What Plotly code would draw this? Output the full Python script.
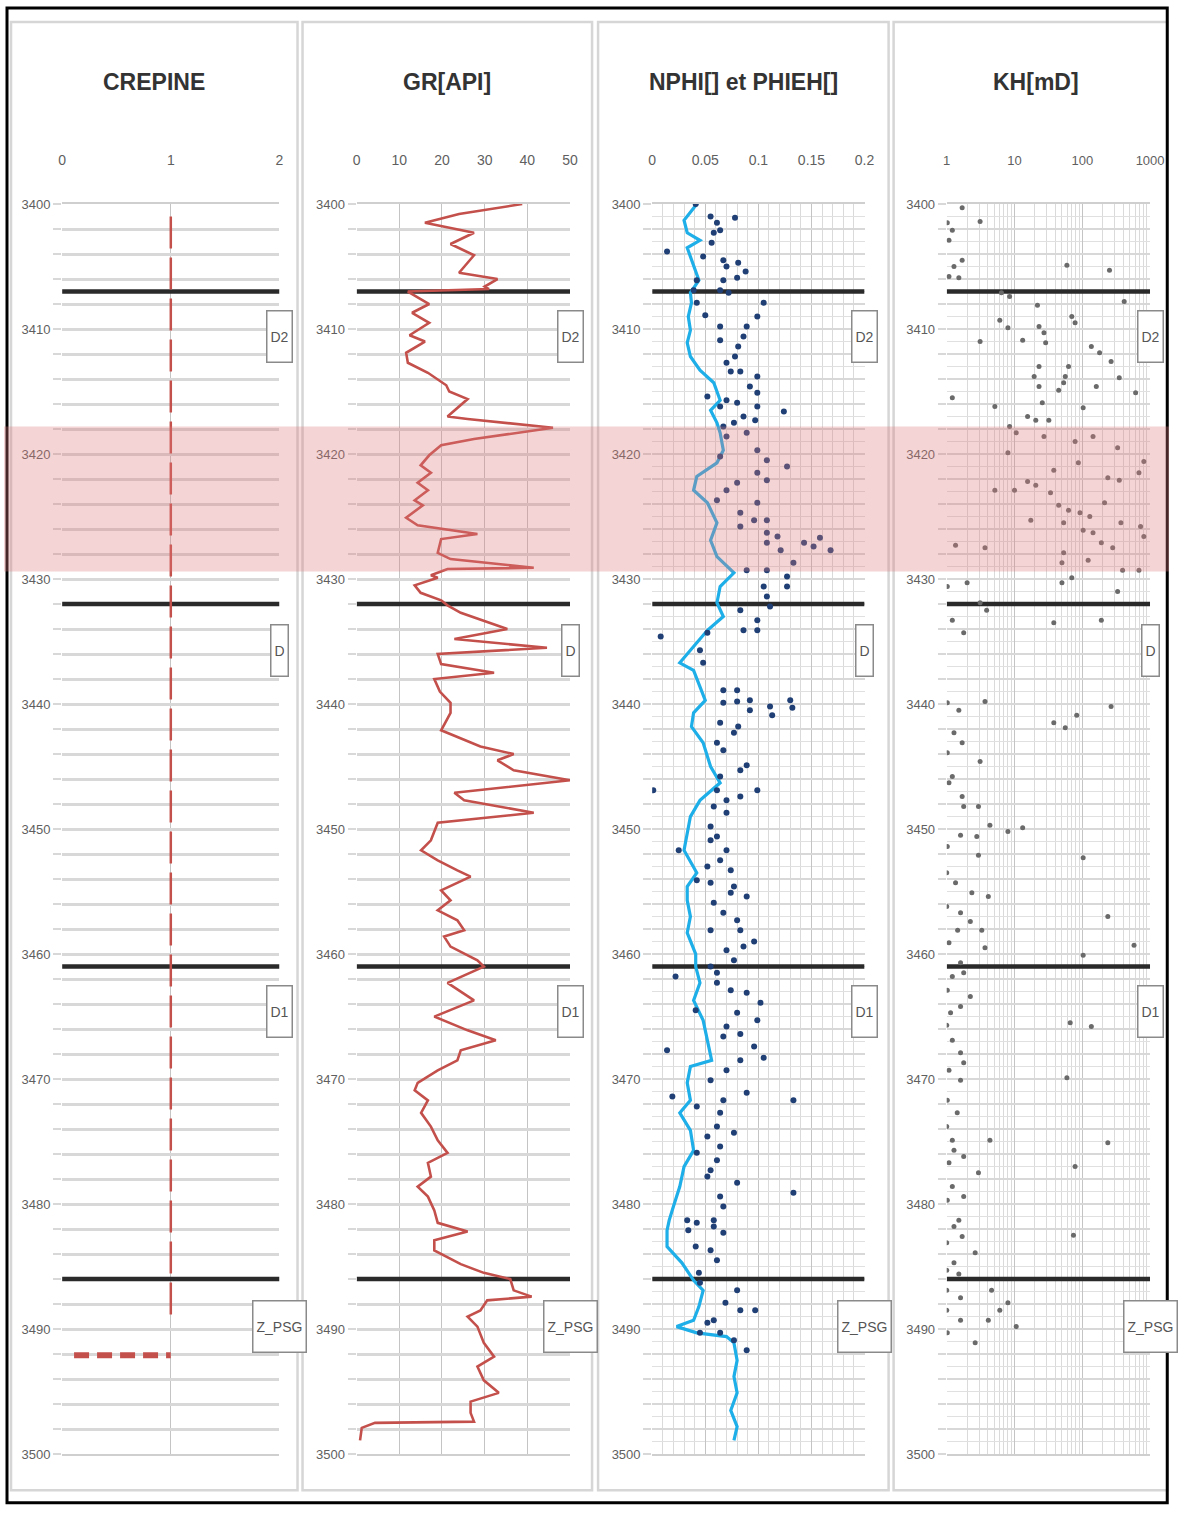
import plotly.graph_objects as go

# ---------------- DATA ----------------
track_titles = ["CREPINE", "GR[API]", "NPHI[] et PHIEH[]", "KH[mD]"]
depth_range = [3500, 3400]
depth_ticks = list(range(3400, 3502, 2))
depth_ticktext = [str(d) if d % 10 == 0 else "" for d in depth_ticks]

zone_tops = [3407.0, 3432.0, 3461.0, 3486.0]
zone_names = ["D2", "D", "D1", "Z_PSG"]
zone_label_depths = [3410.6, 3435.7, 3464.6, 3489.8]

reservoir_interval = [3417.8, 3429.4]

# CREPINE (screen)
crepine_value = 1
crepine_depths = [3401.0, 3489.5]
crepine_shoe_depth = 3492.1
crepine_shoe_x = [0.11, 1.0]

# GR [API]
gr_depth = [3400.0, 3400.8, 3401.5, 3402.3, 3403.2, 3404.1, 3405.5, 3406.0, 3406.6, 3406.8, 3407.0,
            3408.0, 3408.7, 3409.5, 3410.5, 3411.0, 3411.9, 3412.7, 3413.5, 3414.5, 3415.0, 3415.6,
            3417.0, 3417.2, 3417.9, 3418.8, 3419.3, 3420.1, 3420.9, 3421.5, 3422.3, 3422.9, 3423.7,
            3424.1, 3425.1, 3425.7, 3426.4, 3426.8, 3427.9, 3428.4, 3429.1, 3429.2, 3429.7, 3429.9,
            3430.5, 3431.1, 3431.7, 3432.1, 3432.7, 3434.0, 3434.8, 3435.5, 3436.0, 3436.8, 3437.5,
            3438.0, 3439.0, 3439.9, 3440.7, 3442.1, 3443.4, 3444.0, 3444.5, 3445.3, 3446.1, 3447.1,
            3447.7, 3448.7, 3449.5, 3450.9, 3451.7, 3452.5, 3453.3, 3453.8, 3454.9, 3455.7, 3456.5,
            3457.3, 3458.1, 3458.6, 3459.4, 3460.5, 3461.0, 3462.3, 3463.7, 3465.0, 3466.1, 3466.9,
            3467.7, 3468.5, 3469.3, 3470.3, 3470.9, 3471.7, 3472.7, 3473.8, 3474.9, 3475.9, 3476.7,
            3477.8, 3478.6, 3479.4, 3480.5, 3481.5, 3482.2, 3482.9, 3483.7, 3484.8, 3485.5, 3486.0,
            3486.9, 3487.4, 3487.7, 3488.5, 3489.0, 3489.8, 3491.1, 3492.2, 3493.0, 3494.1, 3495.1,
            3495.8, 3496.7, 3497.4, 3497.5, 3497.9, 3498.9]
gr_value = [38.8, 24.0, 16.0, 27.5, 22.0, 27.5, 24.0, 33.0, 30.0, 31.0, 12.0,
            17.0, 13.0, 17.0, 12.4, 16.0, 11.6, 12.0, 16.7, 21.0, 21.7, 26.0,
            21.3, 26.0, 46.0, 27.5, 19.8, 17.0, 15.0, 17.4, 14.3, 16.7, 13.6,
            15.5, 11.6, 14.3, 28.3, 19.8, 19.0, 22.0, 41.5, 21.3, 17.4, 19.0,
            13.6, 15.0, 19.8, 21.3, 24.4, 35.3, 22.9, 44.6, 19.0, 19.8, 32.2,
            18.2, 19.5, 22.0, 22.0, 19.8, 29.0, 36.8, 33.0, 36.8, 50.0, 22.9,
            25.2, 41.5, 19.0, 17.4, 15.1, 19.0, 23.6, 26.7, 19.8, 22.0, 19.0,
            23.6, 25.2, 20.5, 22.0, 28.3, 29.8, 21.3, 27.5, 18.2, 26.0, 32.6,
            24.4, 23.6, 19.0, 14.3, 13.6, 16.7, 15.1, 17.4, 19.0, 21.3, 16.7,
            17.4, 14.3, 16.7, 18.2, 19.0, 26.0, 18.2, 18.2, 24.4, 29.8, 36.0,
            36.8, 41.0, 30.6, 29.0, 26.0, 28.3, 29.8, 32.2, 28.3, 29.8, 33.3,
            26.7, 26.7, 27.5, 4.3, 1.2, 0.8]

# PHIEH (continuous curve)
phieh_depth = [3399.9, 3401.3, 3402.3, 3402.9, 3403.5, 3405.0, 3406.1, 3407.1, 3407.9, 3409.0,
               3410.1, 3411.1, 3412.2, 3413.3, 3414.3, 3415.7, 3416.5, 3417.5, 3418.3, 3419.7,
               3420.7, 3421.8, 3422.9, 3423.9, 3425.5, 3426.9, 3428.2, 3429.5, 3430.6, 3431.9,
               3433.0, 3434.1, 3435.4, 3436.7, 3437.3, 3438.6, 3439.7, 3440.7, 3441.8, 3443.1,
               3445.0, 3446.3, 3447.7, 3449.0, 3450.3, 3451.7, 3453.5, 3454.6, 3455.7, 3457.0,
               3458.3, 3460.0, 3461.0, 3462.3, 3463.7, 3465.3, 3466.9, 3468.5, 3469.0, 3470.3,
               3471.7, 3472.7, 3474.1, 3475.7, 3477.0, 3478.6, 3480.2, 3481.3, 3482.1, 3483.4,
               3484.7, 3486.1, 3486.9, 3488.2, 3489.3, 3489.8, 3490.3, 3490.6, 3491.1, 3492.5,
               3493.8, 3495.1, 3496.5, 3497.8, 3498.9]
phieh_value = [0.043, 0.030, 0.033, 0.045, 0.033, 0.039, 0.044, 0.036, 0.037, 0.034,
               0.036, 0.033, 0.036, 0.045, 0.058, 0.064, 0.055, 0.061, 0.064, 0.067,
               0.061, 0.042, 0.039, 0.052, 0.061, 0.055, 0.061, 0.077, 0.064, 0.061,
               0.067, 0.052, 0.039, 0.026, 0.039, 0.045, 0.050, 0.039, 0.037, 0.048,
               0.055, 0.064, 0.045, 0.036, 0.033, 0.030, 0.042, 0.033, 0.033, 0.036,
               0.033, 0.041, 0.041, 0.045, 0.039, 0.048, 0.052, 0.056, 0.036, 0.033,
               0.036, 0.026, 0.036, 0.039, 0.030, 0.026, 0.020, 0.016, 0.014, 0.014,
               0.028, 0.039, 0.048, 0.044, 0.039, 0.023, 0.042, 0.070, 0.077, 0.080,
               0.077, 0.080, 0.074, 0.080, 0.077]

# NPHI (points)
nphi_depth = [3400.0, 3401.0, 3401.5, 3401.1, 3402.3, 3402.1, 3403.8, 3403.1, 3404.2, 3404.5,
              3405.0, 3404.7, 3405.4, 3406.1, 3406.1, 3405.9, 3406.9, 3406.9, 3407.1, 3407.9,
              3407.9, 3408.9, 3409.0, 3409.8, 3409.8, 3410.6, 3410.9, 3411.4, 3412.2, 3412.7,
              3413.4, 3413.4, 3413.8, 3414.6, 3415.1, 3415.7, 3415.9, 3415.4, 3416.2, 3416.2,
              3416.6, 3417.0, 3417.5, 3417.3, 3417.8, 3418.3, 3418.6, 3419.7, 3420.5, 3421.0,
              3420.2, 3421.5, 3422.3, 3422.1, 3422.9, 3423.7, 3423.9, 3424.7, 3425.3, 3425.3,
              3425.8, 3426.3, 3426.6, 3427.1, 3427.7, 3427.1, 3427.4, 3426.7, 3427.7, 3428.7,
              3429.3, 3429.3, 3429.8, 3430.6, 3430.6, 3431.4, 3432.2, 3432.5, 3433.3, 3434.1,
              3434.1, 3434.6, 3434.3, 3435.7, 3436.7, 3438.9, 3438.9, 3439.7, 3439.7, 3440.2,
              3439.9, 3439.8, 3440.5, 3440.9, 3440.3, 3441.5, 3441.8, 3442.3, 3443.1, 3443.7,
              3444.9, 3445.3, 3445.8, 3446.9, 3446.9, 3447.4, 3447.7, 3448.2, 3448.7, 3449.8,
              3450.6, 3451.7, 3451.7, 3452.5, 3453.3, 3453.0, 3454.1, 3454.3, 3455.1, 3455.4,
              3455.9, 3456.7, 3457.3, 3458.1, 3458.1, 3459.0, 3459.4, 3459.7, 3460.5, 3461.0,
              3461.8, 3462.3, 3463.1, 3463.9, 3464.5, 3464.7, 3465.8, 3465.3, 3466.4, 3467.7,
              3467.4, 3468.3, 3468.5, 3469.3, 3470.1, 3471.1, 3471.7, 3471.4, 3471.7, 3472.7,
              3472.2, 3474.3, 3474.6, 3475.4, 3475.9, 3476.5, 3477.8, 3478.3, 3479.1, 3479.4,
              3481.3, 3481.3, 3446.9, 3450.9, 3454.6, 3461.5, 3462.9, 3466.6, 3473.8, 3477.3,
              3480.2, 3481.5, 3481.8, 3482.3, 3482.1, 3483.4, 3483.7, 3484.5, 3485.5, 3486.9,
              3487.9, 3488.5, 3488.5, 3489.3, 3490.3, 3490.3, 3490.9, 3491.7, 3489.5, 3486.3]
nphi_value = [0.041, 0.055, 0.061, 0.078, 0.058, 0.064, 0.014, 0.056, 0.048, 0.067,
              0.070, 0.081, 0.088, 0.042, 0.067, 0.080, 0.064, 0.039, 0.072, 0.105,
              0.042, 0.050, 0.099, 0.064, 0.089, 0.086, 0.064, 0.081, 0.078, 0.070,
              0.074, 0.083, 0.099, 0.092, 0.099, 0.070, 0.080, 0.052, 0.064, 0.099,
              0.124, 0.086, 0.077, 0.097, 0.067, 0.089, 0.070, 0.099, 0.108, 0.127,
              0.064, 0.099, 0.080, 0.108, 0.070, 0.061, 0.099, 0.083, 0.096, 0.108,
              0.083, 0.108, 0.118, 0.108, 0.121, 0.143, 0.152, 0.158, 0.168, 0.133,
              0.089, 0.108, 0.127, 0.127, 0.105, 0.108, 0.111, 0.083, 0.099, 0.086,
              0.099, 0.008, 0.052, 0.045, 0.048, 0.067, 0.080, 0.092, 0.130, 0.111,
              0.067, 0.080, 0.092, 0.113, 0.132, 0.064, 0.081, 0.077, 0.061, 0.067,
              0.089, 0.083, 0.064, 0.001, 0.099, 0.083, 0.070, 0.058, 0.070, 0.055,
              0.061, 0.025, 0.070, 0.064, 0.074, 0.052, 0.042, 0.055, 0.074, 0.089,
              0.058, 0.067, 0.080, 0.055, 0.083, 0.096, 0.086, 0.070, 0.077, 0.055,
              0.022, 0.061, 0.089, 0.102, 0.041, 0.080, 0.070, 0.099, 0.083, 0.014,
              0.096, 0.105, 0.083, 0.070, 0.055, 0.089, 0.133, 0.019, 0.067, 0.064,
              0.042, 0.077, 0.052, 0.064, 0.042, 0.061, 0.052, 0.080, 0.133, 0.064,
              0.033, 0.058, 0.061, 0.055, 0.077, 0.061, 0.074, 0.067, 0.061, 0.055,
              0.067, 0.042, 0.058, 0.067, 0.034, 0.041, 0.055, 0.061, 0.044, 0.080,
              0.069, 0.083, 0.097, 0.058, 0.045, 0.064, 0.077, 0.089, 0.052, 0.045]

# KH [mD] (points)
kh_depth = [3400.3, 3401.5, 3402.1, 3401.4, 3402.9, 3404.5, 3405.0, 3405.8, 3405.9, 3404.9,
            3405.3, 3407.1, 3407.4, 3407.8, 3408.1, 3409.3, 3409.9, 3409.0, 3409.5, 3411.0,
            3410.9, 3409.8, 3410.3, 3411.1, 3411.4, 3411.9, 3412.6, 3413.0, 3413.8, 3413.0,
            3413.8, 3414.3, 3414.9, 3413.9, 3415.1, 3414.6, 3414.6, 3415.5, 3416.2, 3415.9,
            3416.3, 3417.0, 3417.3, 3417.3, 3417.8, 3418.3, 3418.6, 3419.9, 3419.0, 3420.7,
            3418.6, 3419.5, 3421.3, 3421.9, 3422.1, 3421.5, 3420.6, 3422.9, 3422.9, 3422.2,
            3422.5, 3423.1, 3424.1, 3424.5, 3424.7, 3425.0, 3423.9, 3425.5, 3425.8, 3426.6,
            3425.3, 3425.5, 3426.1, 3426.3, 3427.1, 3427.5, 3427.3, 3427.5, 3427.9, 3428.7,
            3428.5, 3429.3, 3429.3, 3429.9, 3430.3, 3430.3, 3430.6, 3431.9, 3432.5, 3431.0,
            3433.3, 3434.3, 3433.5, 3433.3,
            3439.9, 3440.5, 3439.8, 3441.5, 3441.9, 3440.9, 3440.2, 3442.3, 3443.1, 3443.9,
            3444.6, 3445.8, 3446.3, 3447.4, 3448.2, 3448.2, 3449.7, 3450.2, 3449.9, 3450.5,
            3450.6, 3451.4, 3452.1, 3452.3, 3453.5, 3454.3, 3455.1, 3455.4, 3456.2, 3456.7,
            3458.1, 3457.4, 3458.1, 3459.5, 3459.1, 3457.0, 3459.3, 3460.1, 3460.7, 3461.8,
            3461.5, 3462.9, 3463.4, 3464.2, 3464.7, 3465.7, 3465.5, 3465.8, 3466.9, 3467.9,
            3468.7, 3469.3, 3470.1, 3469.9, 3471.7, 3472.7, 3473.8, 3474.9, 3474.9, 3475.1,
            3475.7, 3476.2, 3476.7, 3477.5, 3477.0, 3478.6, 3479.4, 3479.7, 3481.3,
            3481.8, 3482.6, 3483.1, 3483.9, 3484.7, 3485.3, 3485.6, 3482.5, 3486.9, 3487.5,
            3486.9, 3488.5, 3489.3, 3489.3, 3488.5, 3487.9, 3489.8, 3490.3, 3491.1]
kh_value = [1.69, 1.02, 1.21, 3.11, 1.08, 1.69, 1.28, 1.08, 1.51, 59.3,
            252, 6.41, 8.47, 415, 21.8, 6.07, 8.0, 70.0, 78.3, 3.11,
            13.2, 23.0, 27.2, 28.8, 136, 180, 266, 23.0, 19.5, 62.7,
            56.1, 53.1, 44.9, 351, 612, 161, 23.0, 1.21, 5.13, 25.7,
            103, 15.6, 20.6, 32.1, 8.47, 10.6, 27.2, 8.0, 78.3, 87.5,
            144, 332, 38.0, 238, 351, 685, 809, 5.13, 10.0, 15.6,
            20.6, 34.0, 44.9, 62.7, 92.5, 129, 213, 371, 724, 809,
            17.4, 53.1, 103, 144, 191, 281, 1.35, 3.67, 53.1, 50.1,
            122, 393, 685, 70.0, 50.1, 2.0, 1.02, 3.11, 3.88, 332,
            1.21, 1.78, 38.0, 191,
            1.02, 1.51, 3.67, 38.0, 56.1, 82.8, 266, 1.28, 1.69, 1.02,
            3.11, 1.21, 1.08, 1.69, 1.78, 2.94, 4.34, 8.0, 13.2, 1.60,
            2.78, 1.02, 2.94, 103, 1.0, 1.35, 2.35, 4.11, 1.0, 1.60,
            1.45, 2.23, 3.29, 3.67, 1.08, 238, 580, 103, 1.60, 1.21,
            1.78, 1.02, 2.23, 1.60, 1.14, 1.0, 66.3, 136, 1.21, 1.60,
            1.78, 1.08, 1.60, 59.3, 1.02, 1.43, 1.0, 1.21, 4.34, 238,
            1.28, 1.78, 1.08, 2.94, 78.3, 1.21, 1.78, 1.02, 1.51,
            1.28, 1.69, 1.0, 2.63, 1.28, 1.0, 1.51, 74.1, 1.0, 1.60,
            4.59, 1.0, 1.60, 4.11, 6.07, 8.0, 10.6, 1.02, 2.63]

# axis scales
x_ranges = [[0, 2], [0, 50], [0, 0.2], [0, 3]]
x_tickvals = [[0, 1, 2], [0, 10, 20, 30, 40, 50], [0, 0.05, 0.1, 0.15, 0.2], [1, 10, 100, 1000]]
x_ticktext = [["0", "1", "2"], ["0", "10", "20", "30", "40", "50"],
              ["0", "0.05", "0.1", "0.15", "0.2"], ["1", "10", "100", "1000"]]
kh_minor_ticks = [m * d for d in (1, 10, 100) for m in range(2, 10)]

# ---------------- LAYOUT GEOMETRY ----------------
W, H = 1183, 1513
FONT = "Liberation Sans, Arial, sans-serif"
# target positions (pixels of the finished picture); the photograph is slightly
# rescaled, so positions are mapped through a small calibration
plot_x = [(63, 280), (357, 570), (652, 864), (946, 1149)]
plot_y = (204, 1454)
panels = [(12, 298), (303, 592), (598, 888), (893, 1177)]
panel_y = (22, 1490)
SX, OX, SY, OY = 0.983, 5.0, 0.990, 7.0


def fx(px):
    v = ((px - OX) / SX) / W
    return min(max(v, 0.0), 0.9985)


def fy(py):
    v = 1 - ((py - OY) / SY) / H
    return min(max(v, 0.0015), 1.0)


fig = go.Figure()

RED = "#c4504c"
ZONE = "#2a2a2a"
xmax_data = [2, 50, 0.2, 1000]
xmin_data = [0, 0, 0, 1]

for i in range(4):
    n = "" if i == 0 else str(i + 1)
    xa, ya = "x" + n, "y" + n
    for zt in zone_tops:
        fig.add_trace(go.Scatter(x=[xmin_data[i], xmax_data[i]], y=[zt, zt], mode="lines",
                                 line=dict(color=ZONE, width=4.5), xaxis=xa, yaxis=ya,
                                 showlegend=False, hoverinfo="skip"))
    if i == 0:
        fig.add_trace(go.Scatter(x=[crepine_value, crepine_value], y=crepine_depths, mode="lines",
                                 line=dict(color=RED, width=2.5, dash="32px,9px"),
                                 xaxis=xa, yaxis=ya, showlegend=False, name="CREPINE"))
        fig.add_trace(go.Scatter(x=crepine_shoe_x, y=[crepine_shoe_depth] * 2, mode="lines",
                                 line=dict(color=RED, width=6, dash="15px,8px"),
                                 xaxis=xa, yaxis=ya, showlegend=False))
    elif i == 1:
        fig.add_trace(go.Scatter(x=gr_value, y=gr_depth, mode="lines",
                                 line=dict(color=RED, width=2.6), xaxis=xa, yaxis=ya,
                                 showlegend=False, name="GR"))
    elif i == 2:
        fig.add_trace(go.Scatter(x=phieh_value, y=phieh_depth, mode="lines",
                                 line=dict(color="#1eaee8", width=3.2), xaxis=xa, yaxis=ya,
                                 showlegend=False, name="PHIEH"))
        fig.add_trace(go.Scatter(x=nphi_value, y=nphi_depth, mode="markers",
                                 marker=dict(color="#1f3f75", size=6), xaxis=xa, yaxis=ya,
                                 showlegend=False, name="NPHI"))
    else:
        fig.add_trace(go.Scatter(x=kh_value, y=kh_depth, mode="markers",
                                 marker=dict(color="#6a6a6a", size=5), xaxis=xa, yaxis=ya,
                                 showlegend=False, name="KH"))

    fine = i >= 2
    xaxis = dict(domain=[fx(plot_x[i][0]), fx(plot_x[i][1])], anchor=ya, side="top",
                 range=x_ranges[i], tickvals=x_tickvals[i], ticktext=x_ticktext[i],
                 ticks="outside", ticklen=32, tickcolor="rgba(0,0,0,0)",
                 tickfont=dict(family=FONT, size=14 if i < 3 else 13, color="#5f5f5f"),
                 showgrid=True, gridcolor="#c4c4c4", gridwidth=1.2, zeroline=False,
                 showline=True, mirror=True, linecolor="#cfcfcf", linewidth=1.5,
                 fixedrange=True)
    if i == 2:
        xaxis["minor"] = dict(dtick=0.01, showgrid=True, gridcolor="#dadada", gridwidth=1, ticks="")
    if i == 3:
        xaxis["type"] = "log"
        xaxis["minor"] = dict(tickvals=kh_minor_ticks, showgrid=True, gridcolor="#dadada",
                              gridwidth=1, ticks="")
    yaxis = dict(domain=[fy(plot_y[1]), fy(plot_y[0])], anchor=xa, range=depth_range,
                 tickvals=depth_ticks, ticktext=depth_ticktext, ticks="outside", ticklen=8,
                 tickcolor="#d8d8d8", tickwidth=2,
                 tickfont=dict(family=FONT, size=13, color="#5f5f5f"),
                 showgrid=True, gridcolor="#d8d8d8", gridwidth=2.0 if fine else 2.6,
                 zeroline=False, fixedrange=True)
    if fine:
        yaxis["minor"] = dict(dtick=1, showgrid=True, gridcolor="#e0e0e0", gridwidth=1, ticks="")
    fig.update_layout(**{"xaxis" + n: xaxis, "yaxis" + n: yaxis})

    fig.add_annotation(x=fx((panels[i][0] + panels[i][1]) / 2), y=fy(82), xref="paper", yref="paper",
                       text="<b>" + track_titles[i] + "</b>", showarrow=False,
                       font=dict(family=FONT, size=23, color="#333333"),
                       xanchor="center", yanchor="middle")
    for zn, zd in zip(zone_names, zone_label_depths):
        fig.add_annotation(x=1, xref=xa + " domain", y=zd, yref=ya, text=zn, showarrow=False,
                           font=dict(family=FONT, size=14, color="#555555"),
                           bgcolor="white", bordercolor="#8a8a8a", borderwidth=1.5,
                           height=44, borderpad=3, xanchor="center", yanchor="middle")

shapes = []
for (p0, p1) in panels:
    shapes.append(dict(type="rect", xref="paper", yref="paper", x0=fx(p0), x1=fx(p1),
                       y0=fy(panel_y[1]), y1=fy(panel_y[0]),
                       line=dict(color="#d6d6d6", width=2.5), layer="below"))
shapes.append(dict(type="rect", xref="paper", yref="paper", x0=fx(8), x1=fx(1178),
                   y0=fy(1510), y1=fy(8), line=dict(color="black", width=3), layer="below"))
shapes.append(dict(type="rect", xref="paper", yref="y", x0=0, x1=1,
                   y0=reservoir_interval[0], y1=reservoir_interval[1],
                   fillcolor="rgba(220,120,120,0.32)", line=dict(width=0), layer="above"))

fig.update_layout(width=W, height=H, margin=dict(l=0, r=0, t=0, b=0), autosize=False,
                  paper_bgcolor="white", plot_bgcolor="white", shapes=shapes, showlegend=False)

fig.write_html("out.html", config={"displayModeBar": False},
               post_script="document.body.style.margin='0';document.body.style.overflow='hidden';")
